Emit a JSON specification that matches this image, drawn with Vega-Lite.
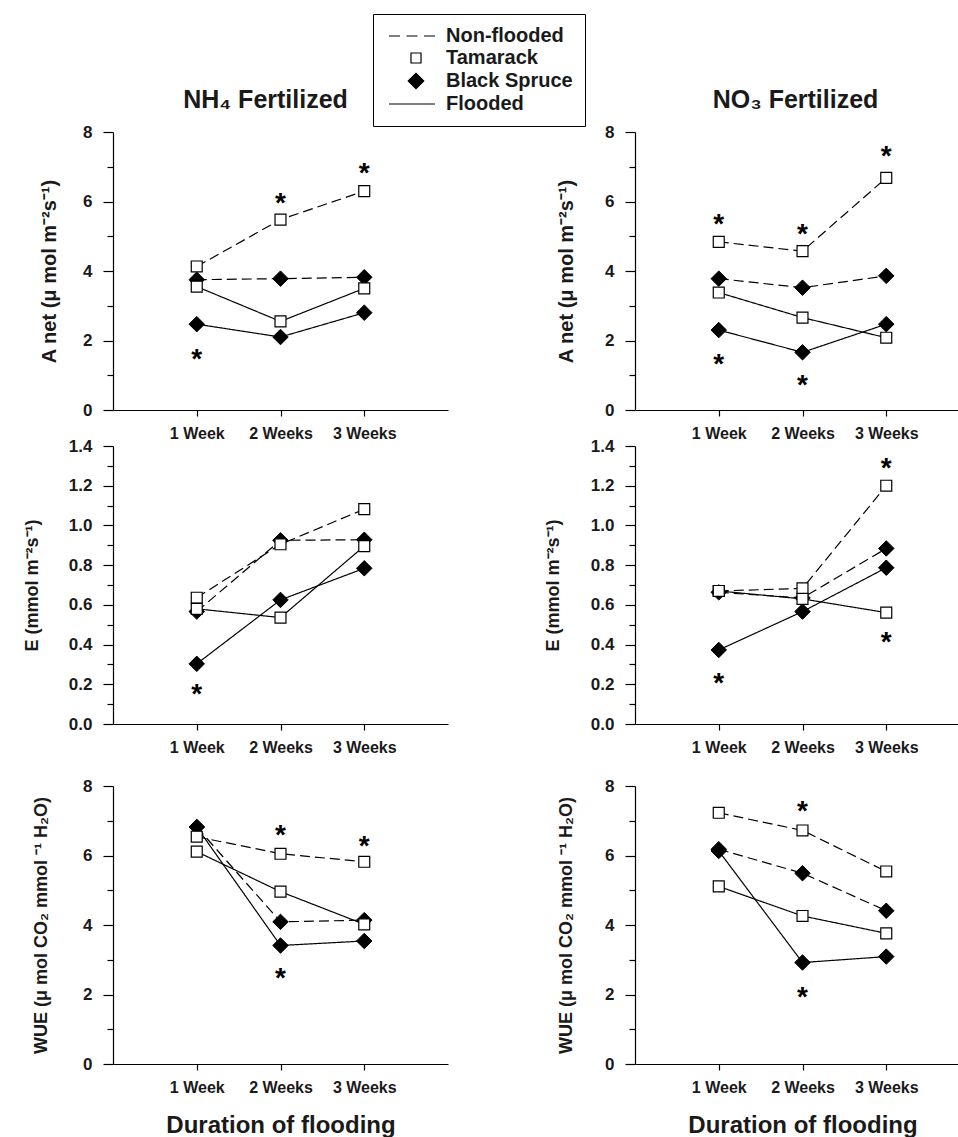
{
  "$schema": "https://vega.github.io/schema/vega-lite/v6.json",
  "background": "white",
  "padding": {"left": 23, "top": 13, "right": 0, "bottom": 5},
  "config": {
    "view": {"stroke": null},
    "font": "Liberation Sans",
    "axis": {"grid": false, "domainColor": "black", "tickColor": "black", "domainWidth": 1.2, "tickWidth": 1.2, "labelFont": "Liberation Sans", "labelFontWeight": "bold", "labelFontSize": 17, "labelColor": "#1a1a1a", "titleFont": "Liberation Sans", "titleFontWeight": "bold", "titleFontSize": 18, "titleColor": "#1a1a1a"},
    "axisX": {"labelFontSize": 16},
    "title": {"font": "Liberation Sans", "fontWeight": "bold", "fontSize": 25, "color": "#1a1a1a"}
  },
  "datasets": {
    "pts": [
      {"p":"A_NH4","w":1,"sp":"Tamarack","tr":"Non-flooded","v":4.13},
      {"p":"A_NH4","w":2,"sp":"Tamarack","tr":"Non-flooded","v":5.48},
      {"p":"A_NH4","w":3,"sp":"Tamarack","tr":"Non-flooded","v":6.30},
      {"p":"A_NH4","w":1,"sp":"Black Spruce","tr":"Non-flooded","v":3.75},
      {"p":"A_NH4","w":2,"sp":"Black Spruce","tr":"Non-flooded","v":3.78},
      {"p":"A_NH4","w":3,"sp":"Black Spruce","tr":"Non-flooded","v":3.82},
      {"p":"A_NH4","w":1,"sp":"Tamarack","tr":"Flooded","v":3.55},
      {"p":"A_NH4","w":2,"sp":"Tamarack","tr":"Flooded","v":2.55},
      {"p":"A_NH4","w":3,"sp":"Tamarack","tr":"Flooded","v":3.50},
      {"p":"A_NH4","w":1,"sp":"Black Spruce","tr":"Flooded","v":2.47},
      {"p":"A_NH4","w":2,"sp":"Black Spruce","tr":"Flooded","v":2.10},
      {"p":"A_NH4","w":3,"sp":"Black Spruce","tr":"Flooded","v":2.80},

      {"p":"A_NO3","w":1,"sp":"Tamarack","tr":"Non-flooded","v":4.84},
      {"p":"A_NO3","w":2,"sp":"Tamarack","tr":"Non-flooded","v":4.57},
      {"p":"A_NO3","w":3,"sp":"Tamarack","tr":"Non-flooded","v":6.68},
      {"p":"A_NO3","w":1,"sp":"Black Spruce","tr":"Non-flooded","v":3.78},
      {"p":"A_NO3","w":2,"sp":"Black Spruce","tr":"Non-flooded","v":3.52},
      {"p":"A_NO3","w":3,"sp":"Black Spruce","tr":"Non-flooded","v":3.86},
      {"p":"A_NO3","w":1,"sp":"Tamarack","tr":"Flooded","v":3.38},
      {"p":"A_NO3","w":2,"sp":"Tamarack","tr":"Flooded","v":2.66},
      {"p":"A_NO3","w":3,"sp":"Tamarack","tr":"Flooded","v":2.08},
      {"p":"A_NO3","w":1,"sp":"Black Spruce","tr":"Flooded","v":2.30},
      {"p":"A_NO3","w":2,"sp":"Black Spruce","tr":"Flooded","v":1.66},
      {"p":"A_NO3","w":3,"sp":"Black Spruce","tr":"Flooded","v":2.47},

      {"p":"E_NH4","w":1,"sp":"Tamarack","tr":"Non-flooded","v":0.636},
      {"p":"E_NH4","w":2,"sp":"Tamarack","tr":"Non-flooded","v":0.905},
      {"p":"E_NH4","w":3,"sp":"Tamarack","tr":"Non-flooded","v":1.082},
      {"p":"E_NH4","w":1,"sp":"Black Spruce","tr":"Non-flooded","v":0.566},
      {"p":"E_NH4","w":2,"sp":"Black Spruce","tr":"Non-flooded","v":0.925},
      {"p":"E_NH4","w":3,"sp":"Black Spruce","tr":"Non-flooded","v":0.928},
      {"p":"E_NH4","w":1,"sp":"Tamarack","tr":"Flooded","v":0.58},
      {"p":"E_NH4","w":2,"sp":"Tamarack","tr":"Flooded","v":0.536},
      {"p":"E_NH4","w":3,"sp":"Tamarack","tr":"Flooded","v":0.896},
      {"p":"E_NH4","w":1,"sp":"Black Spruce","tr":"Flooded","v":0.303},
      {"p":"E_NH4","w":2,"sp":"Black Spruce","tr":"Flooded","v":0.625},
      {"p":"E_NH4","w":3,"sp":"Black Spruce","tr":"Flooded","v":0.784},

      {"p":"E_NO3","w":1,"sp":"Tamarack","tr":"Non-flooded","v":0.67},
      {"p":"E_NO3","w":2,"sp":"Tamarack","tr":"Non-flooded","v":0.683},
      {"p":"E_NO3","w":3,"sp":"Tamarack","tr":"Non-flooded","v":1.20},
      {"p":"E_NO3","w":1,"sp":"Black Spruce","tr":"Non-flooded","v":0.663},
      {"p":"E_NO3","w":2,"sp":"Black Spruce","tr":"Non-flooded","v":0.635},
      {"p":"E_NO3","w":3,"sp":"Black Spruce","tr":"Non-flooded","v":0.884},
      {"p":"E_NO3","w":1,"sp":"Tamarack","tr":"Flooded","v":0.67},
      {"p":"E_NO3","w":2,"sp":"Tamarack","tr":"Flooded","v":0.63},
      {"p":"E_NO3","w":3,"sp":"Tamarack","tr":"Flooded","v":0.561},
      {"p":"E_NO3","w":1,"sp":"Black Spruce","tr":"Flooded","v":0.373},
      {"p":"E_NO3","w":2,"sp":"Black Spruce","tr":"Flooded","v":0.566},
      {"p":"E_NO3","w":3,"sp":"Black Spruce","tr":"Flooded","v":0.787},

      {"p":"W_NH4","w":1,"sp":"Tamarack","tr":"Non-flooded","v":6.54},
      {"p":"W_NH4","w":2,"sp":"Tamarack","tr":"Non-flooded","v":6.05},
      {"p":"W_NH4","w":3,"sp":"Tamarack","tr":"Non-flooded","v":5.82},
      {"p":"W_NH4","w":1,"sp":"Black Spruce","tr":"Non-flooded","v":6.82},
      {"p":"W_NH4","w":2,"sp":"Black Spruce","tr":"Non-flooded","v":4.09},
      {"p":"W_NH4","w":3,"sp":"Black Spruce","tr":"Non-flooded","v":4.14},
      {"p":"W_NH4","w":1,"sp":"Tamarack","tr":"Flooded","v":6.11},
      {"p":"W_NH4","w":2,"sp":"Tamarack","tr":"Flooded","v":4.96},
      {"p":"W_NH4","w":3,"sp":"Tamarack","tr":"Flooded","v":4.02},
      {"p":"W_NH4","w":1,"sp":"Black Spruce","tr":"Flooded","v":6.82},
      {"p":"W_NH4","w":2,"sp":"Black Spruce","tr":"Flooded","v":3.41},
      {"p":"W_NH4","w":3,"sp":"Black Spruce","tr":"Flooded","v":3.54},

      {"p":"W_NO3","w":1,"sp":"Tamarack","tr":"Non-flooded","v":7.23},
      {"p":"W_NO3","w":2,"sp":"Tamarack","tr":"Non-flooded","v":6.72},
      {"p":"W_NO3","w":3,"sp":"Tamarack","tr":"Non-flooded","v":5.54},
      {"p":"W_NO3","w":1,"sp":"Black Spruce","tr":"Non-flooded","v":6.18},
      {"p":"W_NO3","w":2,"sp":"Black Spruce","tr":"Non-flooded","v":5.49},
      {"p":"W_NO3","w":3,"sp":"Black Spruce","tr":"Non-flooded","v":4.41},
      {"p":"W_NO3","w":1,"sp":"Tamarack","tr":"Flooded","v":5.11},
      {"p":"W_NO3","w":2,"sp":"Tamarack","tr":"Flooded","v":4.26},
      {"p":"W_NO3","w":3,"sp":"Tamarack","tr":"Flooded","v":3.76},
      {"p":"W_NO3","w":1,"sp":"Black Spruce","tr":"Flooded","v":6.13},
      {"p":"W_NO3","w":2,"sp":"Black Spruce","tr":"Flooded","v":2.92},
      {"p":"W_NO3","w":3,"sp":"Black Spruce","tr":"Flooded","v":3.09}
    ],
    "stars": [
      {"p":"A_NH4","w":2,"v":6.10},
      {"p":"A_NH4","w":3,"v":6.96},
      {"p":"A_NH4","w":1,"v":1.61},
      {"p":"A_NO3","w":1,"v":5.51},
      {"p":"A_NO3","w":2,"v":5.20},
      {"p":"A_NO3","w":3,"v":7.44},
      {"p":"A_NO3","w":1,"v":1.47},
      {"p":"A_NO3","w":2,"v":0.86},
      {"p":"E_NH4","w":1,"v":0.178},
      {"p":"E_NO3","w":3,"v":1.316},
      {"p":"E_NO3","w":3,"v":0.437},
      {"p":"E_NO3","w":1,"v":0.234},
      {"p":"W_NH4","w":2,"v":6.72},
      {"p":"W_NH4","w":3,"v":6.41},
      {"p":"W_NH4","w":2,"v":2.62},
      {"p":"W_NO3","w":2,"v":7.42},
      {"p":"W_NO3","w":2,"v":2.06}
    ]
  },
  "columns": 2,
  "spacing": {"row": 36, "column": 187},
  "bounds": "flush",
  "concat": [
    {
      "width": 335, "height": 278,
      "title": {"text": "NH₄ Fertilized", "anchor": "middle", "dx": -15, "offset": 10},
      "encoding": {
        "x": {"field":"w","type":"quantitative","scale":{"domain":[0,4]},"axis":{"values":[1,2,3],"labelExpr":"datum.value == 1 ? '1 Week' : datum.value + ' Weeks'","tickSize":6,"labelPadding":9,"labelOverlap":false,"labelFlush":false,"title":null}},
        "y": {"field":"v","type":"quantitative","scale":{"domain":[0,8]},"axis":{"values":[0,1,2,3,4,5,6,7,8],"labelExpr":"datum.value % 2 === 0 ? datum.label : ''","tickSize":{"condition":{"test":"datum.value % 2 === 0","value":10},"value":6},"labelPadding":11,"title":"A net (μ mol m⁻²s⁻¹)","titleFontSize":20,"titlePadding":23}}
      },
      "layer": [
        {"data":{"name":"pts"},"transform":[{"filter":"datum.p === 'A_NH4'"}],"mark":{"type":"line","color":"black","strokeWidth":1.2},"encoding":{"detail":[{"field":"sp"},{"field":"tr"}],"strokeDash":{"field":"tr","type":"nominal","scale":{"domain":["Non-flooded","Flooded"],"range":[[10,5],[1,0]]},"legend":null}}},
        {"data":{"name":"pts"},"transform":[{"filter":"datum.p === 'A_NH4' && datum.sp === 'Black Spruce'"}],"mark":{"type":"point","shape":"diamond","size":240,"filled":true,"fill":"black","stroke":"black","strokeWidth":1,"opacity":1}},
        {"data":{"name":"pts"},"transform":[{"filter":"datum.p === 'A_NH4' && datum.sp === 'Tamarack'"}],"mark":{"type":"point","shape":"square","size":120,"filled":true,"fill":"white","stroke":"black","strokeWidth":1.2,"opacity":1}},
        {"data":{"name":"stars"},"transform":[{"filter":"datum.p === 'A_NH4'"}],"mark":{"type":"text","text":"*","font":"Liberation Sans","fontSize":28,"fontWeight":"bold","baseline":"middle","dy":6,"color":"black"}},
        {"data":{"values":[{"k":"Non-flooded","w":-10,"v":-10},{"k":"Tamarack","w":-10,"v":-10},{"k":"Black Spruce","w":-10,"v":-10},{"k":"Flooded","w":-10,"v":-10}]},
         "mark":{"type":"point","filled":true,"clip":true,"stroke":"black","strokeWidth":1.2,"opacity":1},
         "encoding":{
           "shape":{"field":"k","type":"nominal","scale":{"domain":["Non-flooded","Tamarack","Black Spruce","Flooded"],"range":["M-6.75,0H-4M-2.375,0H0.375M2,0H4.75","square","diamond","M-6.75,0H4.75"]},
             "legend":{"orient":"none","legendX":260,"legendY":-118,"title":null,"labelFont":"Liberation Sans","labelFontSize":20,"labelFontWeight":"bold","labelColor":"#1a1a1a","strokeColor":"black","fillColor":"white","padding":12,"rowPadding":2,"symbolOffset":21,"labelOffset":20,"symbolStrokeColor":"black","symbolStrokeWidth":1.2}},
           "fill":{"field":"k","type":"nominal","scale":{"domain":["Non-flooded","Tamarack","Black Spruce","Flooded"],"range":["transparent","white","black","transparent"]}},
           "size":{"field":"k","type":"nominal","scale":{"type":"ordinal","domain":["Non-flooded","Tamarack","Black Spruce","Flooded"],"range":[64,100,240,64]}}
         }}
      ]
    },
    {
      "width": 335, "height": 278,
      "title": {"text": "NO₃ Fertilized", "anchor": "middle", "dx": -7, "offset": 10},
      "encoding": {
        "x": {"field":"w","type":"quantitative","scale":{"domain":[0,4]},"axis":{"values":[1,2,3],"labelExpr":"datum.value == 1 ? '1 Week' : datum.value + ' Weeks'","tickSize":6,"labelPadding":9,"labelOverlap":false,"labelFlush":false,"title":null}},
        "y": {"field":"v","type":"quantitative","scale":{"domain":[0,8]},"axis":{"values":[0,1,2,3,4,5,6,7,8],"labelExpr":"datum.value % 2 === 0 ? datum.label : ''","tickSize":{"condition":{"test":"datum.value % 2 === 0","value":10},"value":6},"labelPadding":11,"title":"A net (μ mol m⁻²s⁻¹)","titleFontSize":20,"titlePadding":28}}
      },
      "layer": [
        {"data":{"name":"pts"},"transform":[{"filter":"datum.p === 'A_NO3'"}],"mark":{"type":"line","color":"black","strokeWidth":1.2},"encoding":{"detail":[{"field":"sp"},{"field":"tr"}],"strokeDash":{"field":"tr","type":"nominal","scale":{"domain":["Non-flooded","Flooded"],"range":[[10,5],[1,0]]},"legend":null}}},
        {"data":{"name":"pts"},"transform":[{"filter":"datum.p === 'A_NO3' && datum.sp === 'Black Spruce'"}],"mark":{"type":"point","shape":"diamond","size":240,"filled":true,"fill":"black","stroke":"black","strokeWidth":1,"opacity":1}},
        {"data":{"name":"pts"},"transform":[{"filter":"datum.p === 'A_NO3' && datum.sp === 'Tamarack'"}],"mark":{"type":"point","shape":"square","size":120,"filled":true,"fill":"white","stroke":"black","strokeWidth":1.2,"opacity":1}},
        {"data":{"name":"stars"},"transform":[{"filter":"datum.p === 'A_NO3'"}],"mark":{"type":"text","text":"*","font":"Liberation Sans","fontSize":28,"fontWeight":"bold","baseline":"middle","dy":6,"color":"black"}}
      ]
    },
    {
      "width": 335, "height": 278,
      "encoding": {
        "x": {"field":"w","type":"quantitative","scale":{"domain":[0,4]},"axis":{"values":[1,2,3],"labelExpr":"datum.value == 1 ? '1 Week' : datum.value + ' Weeks'","tickSize":6,"labelPadding":9,"labelOverlap":false,"labelFlush":false,"title":null}},
        "y": {"field":"v","type":"quantitative","scale":{"domain":[0,1.4]},"axis":{"values":[0,0.1,0.2,0.3,0.4,0.5,0.6,0.7,0.8,0.9,1.0,1.1,1.2,1.3,1.4],"format":".1f","labelExpr":"round(datum.value*10) % 2 === 0 ? datum.label : ''","tickSize":{"condition":{"test":"round(datum.value*10) % 2 === 0","value":10},"value":6},"labelPadding":11,"title":"E (mmol m⁻²s⁻¹)","titlePadding":27}}
      },
      "layer": [
        {"data":{"name":"pts"},"transform":[{"filter":"datum.p === 'E_NH4'"}],"mark":{"type":"line","color":"black","strokeWidth":1.2},"encoding":{"detail":[{"field":"sp"},{"field":"tr"}],"strokeDash":{"field":"tr","type":"nominal","scale":{"domain":["Non-flooded","Flooded"],"range":[[10,5],[1,0]]},"legend":null}}},
        {"data":{"name":"pts"},"transform":[{"filter":"datum.p === 'E_NH4' && datum.sp === 'Black Spruce'"}],"mark":{"type":"point","shape":"diamond","size":240,"filled":true,"fill":"black","stroke":"black","strokeWidth":1,"opacity":1}},
        {"data":{"name":"pts"},"transform":[{"filter":"datum.p === 'E_NH4' && datum.sp === 'Tamarack'"}],"mark":{"type":"point","shape":"square","size":120,"filled":true,"fill":"white","stroke":"black","strokeWidth":1.2,"opacity":1}},
        {"data":{"name":"stars"},"transform":[{"filter":"datum.p === 'E_NH4'"}],"mark":{"type":"text","text":"*","font":"Liberation Sans","fontSize":28,"fontWeight":"bold","baseline":"middle","dy":6,"color":"black"}}
      ]
    },
    {
      "width": 335, "height": 278,
      "encoding": {
        "x": {"field":"w","type":"quantitative","scale":{"domain":[0,4]},"axis":{"values":[1,2,3],"labelExpr":"datum.value == 1 ? '1 Week' : datum.value + ' Weeks'","tickSize":6,"labelPadding":9,"labelOverlap":false,"labelFlush":false,"title":null}},
        "y": {"field":"v","type":"quantitative","scale":{"domain":[0,1.4]},"axis":{"values":[0,0.1,0.2,0.3,0.4,0.5,0.6,0.7,0.8,0.9,1.0,1.1,1.2,1.3,1.4],"format":".1f","labelExpr":"round(datum.value*10) % 2 === 0 ? datum.label : ''","tickSize":{"condition":{"test":"round(datum.value*10) % 2 === 0","value":10},"value":6},"labelPadding":11,"title":"E (mmol m⁻²s⁻¹)","titlePadding":28}}
      },
      "layer": [
        {"data":{"name":"pts"},"transform":[{"filter":"datum.p === 'E_NO3'"}],"mark":{"type":"line","color":"black","strokeWidth":1.2},"encoding":{"detail":[{"field":"sp"},{"field":"tr"}],"strokeDash":{"field":"tr","type":"nominal","scale":{"domain":["Non-flooded","Flooded"],"range":[[10,5],[1,0]]},"legend":null}}},
        {"data":{"name":"pts"},"transform":[{"filter":"datum.p === 'E_NO3' && datum.sp === 'Black Spruce'"}],"mark":{"type":"point","shape":"diamond","size":240,"filled":true,"fill":"black","stroke":"black","strokeWidth":1,"opacity":1}},
        {"data":{"name":"pts"},"transform":[{"filter":"datum.p === 'E_NO3' && datum.sp === 'Tamarack'"}],"mark":{"type":"point","shape":"square","size":120,"filled":true,"fill":"white","stroke":"black","strokeWidth":1.2,"opacity":1}},
        {"data":{"name":"stars"},"transform":[{"filter":"datum.p === 'E_NO3'"}],"mark":{"type":"text","text":"*","font":"Liberation Sans","fontSize":28,"fontWeight":"bold","baseline":"middle","dy":6,"color":"black"}}
      ]
    },
    {
      "width": 335, "height": 304,
      "encoding": {
        "x": {"field":"w","type":"quantitative","scale":{"domain":[0,4]},"axis":{"values":[1,2,3],"labelExpr":"datum.value == 1 ? '1 Week' : datum.value + ' Weeks'","tickSize":6,"labelPadding":9,"labelOverlap":false,"labelFlush":false,"title":"Duration of flooding","titleFontSize":24,"titlePadding":18}},
        "y": {"field":"v","type":"quantitative","scale":{"domain":[0,8],"range":[304,26]},"axis":{"values":[0,1,2,3,4,5,6,7,8],"labelExpr":"datum.value % 2 === 0 ? datum.label : ''","tickSize":{"condition":{"test":"datum.value % 2 === 0","value":10},"value":6},"labelPadding":11,"title":"WUE (μ mol CO₂ mmol ⁻¹ H₂O)","titlePadding":32}}
      },
      "layer": [
        {"data":{"name":"pts"},"transform":[{"filter":"datum.p === 'W_NH4'"}],"mark":{"type":"line","color":"black","strokeWidth":1.2},"encoding":{"detail":[{"field":"sp"},{"field":"tr"}],"strokeDash":{"field":"tr","type":"nominal","scale":{"domain":["Non-flooded","Flooded"],"range":[[10,5],[1,0]]},"legend":null}}},
        {"data":{"name":"pts"},"transform":[{"filter":"datum.p === 'W_NH4' && datum.sp === 'Black Spruce'"}],"mark":{"type":"point","shape":"diamond","size":240,"filled":true,"fill":"black","stroke":"black","strokeWidth":1,"opacity":1}},
        {"data":{"name":"pts"},"transform":[{"filter":"datum.p === 'W_NH4' && datum.sp === 'Tamarack'"}],"mark":{"type":"point","shape":"square","size":120,"filled":true,"fill":"white","stroke":"black","strokeWidth":1.2,"opacity":1}},
        {"data":{"name":"stars"},"transform":[{"filter":"datum.p === 'W_NH4'"}],"mark":{"type":"text","text":"*","font":"Liberation Sans","fontSize":28,"fontWeight":"bold","baseline":"middle","dy":6,"color":"black"}}
      ]
    },
    {
      "width": 335, "height": 304,
      "encoding": {
        "x": {"field":"w","type":"quantitative","scale":{"domain":[0,4]},"axis":{"values":[1,2,3],"labelExpr":"datum.value == 1 ? '1 Week' : datum.value + ' Weeks'","tickSize":6,"labelPadding":9,"labelOverlap":false,"labelFlush":false,"title":"Duration of flooding","titleFontSize":24,"titlePadding":18}},
        "y": {"field":"v","type":"quantitative","scale":{"domain":[0,8],"range":[304,26]},"axis":{"values":[0,1,2,3,4,5,6,7,8],"labelExpr":"datum.value % 2 === 0 ? datum.label : ''","tickSize":{"condition":{"test":"datum.value % 2 === 0","value":10},"value":6},"labelPadding":11,"title":"WUE (μ mol CO₂ mmol ⁻¹ H₂O)","titlePadding":29}}
      },
      "layer": [
        {"data":{"name":"pts"},"transform":[{"filter":"datum.p === 'W_NO3'"}],"mark":{"type":"line","color":"black","strokeWidth":1.2},"encoding":{"detail":[{"field":"sp"},{"field":"tr"}],"strokeDash":{"field":"tr","type":"nominal","scale":{"domain":["Non-flooded","Flooded"],"range":[[10,5],[1,0]]},"legend":null}}},
        {"data":{"name":"pts"},"transform":[{"filter":"datum.p === 'W_NO3' && datum.sp === 'Black Spruce'"}],"mark":{"type":"point","shape":"diamond","size":240,"filled":true,"fill":"black","stroke":"black","strokeWidth":1,"opacity":1}},
        {"data":{"name":"pts"},"transform":[{"filter":"datum.p === 'W_NO3' && datum.sp === 'Tamarack'"}],"mark":{"type":"point","shape":"square","size":120,"filled":true,"fill":"white","stroke":"black","strokeWidth":1.2,"opacity":1}},
        {"data":{"name":"stars"},"transform":[{"filter":"datum.p === 'W_NO3'"}],"mark":{"type":"text","text":"*","font":"Liberation Sans","fontSize":28,"fontWeight":"bold","baseline":"middle","dy":6,"color":"black"}}
      ]
    }
  ]
}
